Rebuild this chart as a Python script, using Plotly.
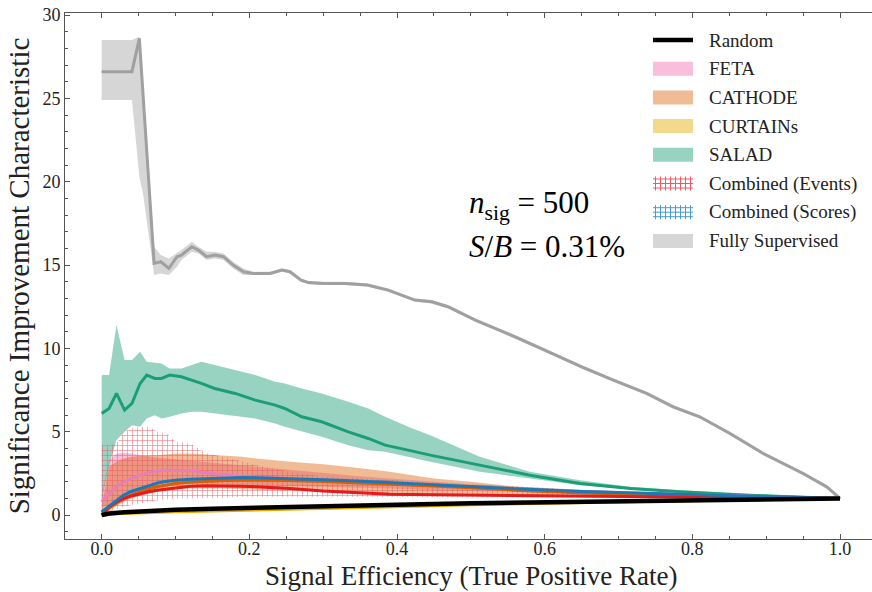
import plotly.graph_objects as go

# ---- Fully supervised classifier ----
fs_x = [0, 0.041, 0.051, 0.056, 0.071, 0.080, 0.091, 0.102, 0.108, 0.122, 0.131, 0.142, 0.153,
        0.165, 0.178, 0.192, 0.205, 0.228, 0.244, 0.255, 0.27, 0.28, 0.30, 0.33, 0.36, 0.388,
        0.424, 0.447, 0.469, 0.506, 0.533, 0.56, 0.60, 0.65, 0.693, 0.738, 0.774, 0.81, 0.851,
        0.896, 0.95, 0.982, 1.0]
fs_y = [26.6, 26.6, 28.6, 25.2, 15.1, 15.2, 14.8, 15.5, 15.6, 16.1, 15.9, 15.5, 15.6,
        15.5, 15.0, 14.6, 14.5, 14.5, 14.7, 14.6, 14.1, 13.95, 13.9, 13.9, 13.8, 13.5,
        12.9, 12.8, 12.5, 11.7, 11.2, 10.7, 9.9, 8.9, 8.1, 7.3, 6.5, 5.9, 4.9,
        3.7, 2.5, 1.7, 1.0]
fs_hi = [28.5, 28.5, 28.7, 26.0, 16.1, 15.6, 15.4, 15.7, 15.9, 16.4, 16.1, 15.8, 15.8,
         15.7, 15.2, 14.8, 14.6, 14.6, 14.8, 14.7, 14.2, 14.05, 14.0, 14.0, 13.9, 13.6,
         13.0, 12.9, 12.6, 11.8, 11.3, 10.8, 10.0, 9.0, 8.2, 7.4, 6.6, 6.0, 5.0,
         3.8, 2.6, 1.8, 1.0]
fs_lo = [24.9, 24.9, 20.3, 19.3, 14.4, 14.5, 14.4, 14.9, 15.3, 15.8, 15.7, 15.3, 15.4,
         15.3, 14.8, 14.4, 14.4, 14.4, 14.6, 14.5, 14.0, 13.85, 13.8, 13.8, 13.7, 13.4,
         12.8, 12.7, 12.4, 11.6, 11.1, 10.6, 9.8, 8.8, 8.0, 7.2, 6.4, 5.8, 4.8,
         3.6, 2.4, 1.6, 1.0]

# ---- SALAD ----
sa_x = [0, 0.01, 0.02, 0.031, 0.041, 0.052, 0.061, 0.072, 0.081, 0.092, 0.108, 0.122, 0.135,
        0.153, 0.181, 0.208, 0.235, 0.248, 0.271, 0.298, 0.334, 0.361, 0.384, 0.415, 0.445,
        0.512, 0.58, 0.648, 0.716, 0.783, 0.874, 1.0]
sa_y = [6.1, 6.4, 7.3, 6.3, 6.7, 7.9, 8.4, 8.2, 8.2, 8.4, 8.3, 8.1, 7.9,
        7.6, 7.3, 6.9, 6.6, 6.4, 5.9, 5.6, 5.0, 4.6, 4.2, 3.9, 3.6,
        3.0, 2.4, 1.9, 1.6, 1.4, 1.2, 1.0]
sa_hi = [8.4, 8.4, 11.4, 9.3, 9.3, 9.8, 9.2, 9.15, 9.1, 8.8, 8.8, 9.0, 9.2,
         9.0, 8.7, 8.4, 8.0, 7.9, 7.6, 7.3, 6.8, 6.4, 5.9, 5.3, 4.8,
         3.5, 2.6, 2.1, 1.7, 1.5, 1.3, 1.0]
sa_lo = [0.9, 3.0, 4.5, 5.0, 5.4, 5.3, 5.8, 6.0, 5.8, 5.9, 6.1, 6.2, 6.2,
         6.1, 5.95, 5.8, 5.5, 5.3, 5.0, 4.7, 4.2, 3.9, 3.8, 3.5, 3.2,
         2.6, 2.2, 1.8, 1.55, 1.4, 1.2, 1.0]

# ---- shared efficiency grid for the weakly supervised methods ----
eff = [0, 0.01, 0.02, 0.03, 0.04, 0.052, 0.065, 0.075, 0.088, 0.1, 0.12, 0.142, 0.165, 0.19,
       0.21, 0.255, 0.3, 0.345, 0.39, 0.45, 0.5, 0.56, 0.65, 0.75, 0.85, 0.95, 1.0]

feta_y = [0.8, 1.3, 1.7, 2.0, 2.2, 2.4, 2.55, 2.65, 2.7, 2.7, 2.66, 2.55, 2.42, 2.32,
          2.27, 2.2, 2.1, 2.0, 1.9, 1.75, 1.65, 1.55, 1.4, 1.27, 1.15, 1.05, 1.0]
feta_hi = [1.2, 3.3, 3.7, 3.75, 3.7, 3.6, 3.5, 3.45, 3.4, 3.35, 3.3, 3.2, 3.1, 3.0,
           2.9, 2.7, 2.5, 2.35, 2.2, 2.0, 1.85, 1.72, 1.52, 1.35, 1.2, 1.07, 1.0]
feta_lo = [0.5, 0.6, 0.8, 1.0, 1.2, 1.4, 1.6, 1.7, 1.8, 1.85, 1.9, 1.9, 1.85, 1.8,
           1.8, 1.75, 1.7, 1.65, 1.6, 1.5, 1.45, 1.38, 1.28, 1.2, 1.1, 1.03, 1.0]

cath_y = [0.15, 0.45, 0.75, 1.0, 1.2, 1.4, 1.6, 1.7, 1.82, 1.9, 1.98, 2.04, 2.08, 2.1,
          2.1, 2.08, 2.02, 1.95, 1.87, 1.75, 1.65, 1.5, 1.33, 1.22, 1.12, 1.04, 1.0]
cath_hi = [0.6, 2.9, 3.2, 3.4, 3.5, 3.55, 3.6, 3.6, 3.65, 3.7, 3.7, 3.65, 3.6, 3.5,
           3.4, 3.2, 3.05, 2.85, 2.6, 2.2, 2.0, 1.72, 1.5, 1.3, 1.18, 1.06, 1.0]
cath_lo = [0.0, 0.3, 0.55, 0.8, 1.0, 1.15, 1.3, 1.4, 1.5, 1.55, 1.6, 1.6, 1.6, 1.55,
           1.5, 1.45, 1.4, 1.35, 1.3, 1.25, 1.22, 1.2, 1.15, 1.12, 1.08, 1.03, 1.0]

curt_y = [0.0, 0.05, 0.08, 0.1, 0.12, 0.14, 0.16, 0.17, 0.19, 0.2, 0.22, 0.24, 0.27, 0.29,
          0.31, 0.35, 0.4, 0.45, 0.5, 0.56, 0.62, 0.68, 0.76, 0.84, 0.91, 0.97, 1.0]
curt_hi = [0.03, 0.09, 0.12, 0.14, 0.16, 0.18, 0.2, 0.21, 0.23, 0.24, 0.26, 0.28, 0.31, 0.33,
           0.35, 0.39, 0.44, 0.49, 0.54, 0.6, 0.66, 0.71, 0.79, 0.86, 0.93, 0.98, 1.0]
curt_lo = [0.0, 0.02, 0.04, 0.06, 0.08, 0.1, 0.12, 0.13, 0.15, 0.16, 0.18, 0.2, 0.23, 0.25,
           0.27, 0.31, 0.36, 0.41, 0.46, 0.52, 0.58, 0.65, 0.73, 0.82, 0.89, 0.96, 1.0]

ev_y = [0.0, 0.5, 0.8, 1.0, 1.15, 1.3, 1.42, 1.5, 1.58, 1.65, 1.74, 1.76, 1.76, 1.74,
        1.7, 1.6, 1.45, 1.33, 1.25, 1.22, 1.2, 1.18, 1.15, 1.12, 1.08, 1.03, 1.0]
ev_hi = [4.2, 4.2, 4.3, 5.0, 5.2, 5.3, 5.3, 5.0, 4.9, 4.4, 4.3, 3.7, 3.5, 3.2,
         3.0, 2.6, 2.3, 2.2, 2.1, 1.9, 1.8, 1.7, 1.5, 1.35, 1.2, 1.05, 1.0]
ev_lo = [0.0, 0.2, 0.35, 0.5, 0.6, 0.7, 0.8, 0.9, 0.95, 1.0, 1.0, 1.05, 1.05, 1.1,
         1.1, 1.1, 1.1, 1.1, 1.1, 1.1, 1.1, 1.1, 1.05, 1.04, 1.02, 1.0, 1.0]

sc_y = [0.2, 0.55, 0.9, 1.2, 1.42, 1.6, 1.8, 1.92, 2.03, 2.1, 2.16, 2.2, 2.24, 2.26,
        2.25, 2.2, 2.12, 2.05, 1.95, 1.8, 1.7, 1.58, 1.42, 1.3, 1.18, 1.06, 1.0]
sc_hi = [0.35, 0.75, 1.1, 1.4, 1.6, 1.78, 1.97, 2.08, 2.19, 2.26, 2.32, 2.36, 2.4, 2.42,
         2.41, 2.36, 2.28, 2.2, 2.1, 1.94, 1.83, 1.7, 1.52, 1.38, 1.24, 1.09, 1.0]
sc_lo = [0.05, 0.35, 0.7, 1.0, 1.24, 1.42, 1.63, 1.76, 1.87, 1.94, 2.0, 2.04, 2.08, 2.1,
         2.09, 2.04, 1.96, 1.9, 1.8, 1.66, 1.57, 1.46, 1.32, 1.22, 1.12, 1.03, 1.0]

# ---- random classifier ----
rand_x = [0, 0.01, 0.03, 0.05, 0.1, 0.15, 0.2, 0.3, 0.4, 0.5, 0.6, 0.7, 0.8, 0.9, 1.0]
rand_y = [0, 0.1, 0.17, 0.22, 0.32, 0.39, 0.45, 0.55, 0.63, 0.71, 0.77, 0.84, 0.89, 0.95, 1.0]

# ---- legend entries (label, kind, colour) ----
legend_labels = ["Random", "FETA", "CATHODE", "CURTAINs", "SALAD",
                 "Combined (Events)", "Combined (Scores)", "Fully Supervised"]
legend_kinds = ["line", "patch", "patch", "patch", "patch", "hatch", "hatch", "patch"]

FONT = "Liberation Serif"
W, H = 872, 592
ML, MR, MT, MB = 65, 0, 13, 53

C_FS = "rgba(200,200,200,0.75)"
C_FETA = "rgba(231,41,138,0.3)"
C_CATH = "rgba(217,95,2,0.42)"
C_CURT = "rgba(230,171,2,0.45)"
C_SALAD = "rgba(27,158,119,0.45)"
C_EV = "rgb(234,90,98)"
C_SC = "rgb(70,155,210)"
legend_colors = ["black", C_FETA, C_CATH, C_CURT, C_SALAD, C_EV, C_SC, C_FS]

fig = go.Figure()


def band(x, lo, hi, color, pattern=False):
    xs = list(x) + list(x)[::-1]
    ys = list(hi) + list(lo)[::-1]
    kw = dict(fillcolor=color)
    if pattern:
        kw = dict(fillcolor="rgba(0,0,0,0)",
                  fillpattern=dict(shape="+", fgcolor=color, fgopacity=0.85,
                                   bgcolor="rgba(0,0,0,0)", size=5, solidity=0.22))
    fig.add_trace(go.Scatter(x=xs, y=ys, fill="toself", mode="lines",
                             line=dict(width=0, color=color), showlegend=False,
                             hoverinfo="skip", **kw))


def curve(x, y, color, width=3):
    fig.add_trace(go.Scatter(x=x, y=y, mode="lines", line=dict(color=color, width=width),
                             showlegend=False, hoverinfo="skip"))


band(fs_x, fs_lo, fs_hi, C_FS)
band(eff, feta_lo, feta_hi, C_FETA)
band(eff, cath_lo, cath_hi, C_CATH)
band(eff, curt_lo, curt_hi, C_CURT)
band(sa_x, sa_lo, sa_hi, C_SALAD)
band(eff, ev_lo, ev_hi, C_EV, pattern=True)
band(eff, sc_lo, sc_hi, C_SC, pattern=True)

curve(fs_x, fs_y, "#a0a0a0")
curve(sa_x, sa_y, "#1b9e77")
curve(eff, feta_y, "#e57fb8")
curve(eff, cath_y, "#d95f02")
curve(eff, curt_y, "#e6ab02")
curve(eff, ev_y, "#e41a1c")
curve(eff, sc_y, "#1f77b4")
curve(rand_x, rand_y, "black", width=4.5)


# ---- legend drawn in paper coordinates ----
def px_x(p):
    return (p - ML) / (W - ML - MR)


def px_y(p):
    return (H - MB - p) / (H - MT - MB)


shapes = []
row0, row_step = 40, 28.7
sw_l, sw_r, sw_h = 653, 693, 14
for i, (lab, kind, col) in enumerate(zip(legend_labels, legend_kinds, legend_colors)):
    yc = row0 + i * row_step
    if kind == "line":
        shapes.append(dict(type="line", xref="paper", yref="paper",
                           x0=px_x(sw_l), x1=px_x(sw_r), y0=px_y(yc), y1=px_y(yc),
                           line=dict(color=col, width=4.5)))
    elif kind == "patch":
        shapes.append(dict(type="rect", xref="paper", yref="paper",
                           x0=px_x(sw_l), x1=px_x(sw_r), y0=px_y(yc - sw_h / 2),
                           y1=px_y(yc + sw_h / 2), fillcolor=col, line=dict(width=0)))
    else:
        for k in range(8):
            xv = sw_l + 2.5 + k * 5
            shapes.append(dict(type="line", xref="paper", yref="paper",
                               x0=px_x(xv), x1=px_x(xv), y0=px_y(yc - sw_h / 2),
                               y1=px_y(yc + sw_h / 2), line=dict(color=col, width=1)))
        for dy in (-4.5, 0, 4.5):
            shapes.append(dict(type="line", xref="paper", yref="paper",
                               x0=px_x(sw_l), x1=px_x(sw_r), y0=px_y(yc + dy),
                               y1=px_y(yc + dy), line=dict(color=col, width=1)))
    fig.add_annotation(x=px_x(707), y=px_y(yc), xref="paper", yref="paper",
                       xanchor="left", yanchor="middle", text=lab, showarrow=False,
                       font=dict(family=FONT, size=19, color="#222"))

fig.add_annotation(x=0.495, y=17.3, xref="x", yref="y", xanchor="left", yanchor="bottom",
                   text="<i>n</i><sub>sig</sub> = 500", showarrow=False,
                   font=dict(family=FONT, size=31, color="black"))
fig.add_annotation(x=0.495, y=17.3, xref="x", yref="y", xanchor="left", yanchor="top",
                   text="<i>S</i>/<i>B</i> = 0.31%", showarrow=False,
                   font=dict(family=FONT, size=31, color="black"))

# x-axis title placed under the tick labels
fig.add_annotation(x=px_x(471), y=px_y(592), xref="paper", yref="paper",
                   xanchor="center", yanchor="bottom", borderpad=0,
                   text="Signal Efficiency (True Positive Rate)", showarrow=False,
                   font=dict(family=FONT, size=27, color="#222"))

axis_common = dict(showgrid=False, zeroline=False, showline=True, linecolor="#555",
                   linewidth=1, ticks="inside", ticklen=5, tickcolor="#555",
                   tickfont=dict(family=FONT, size=18, color="#222"))

fig.update_layout(
    width=W, height=H,
    margin=dict(l=ML, r=MR, t=MT, b=MB),
    paper_bgcolor="white", plot_bgcolor="white",
    font=dict(family=FONT, color="#222"),
    shapes=shapes,
    showlegend=False,
    xaxis=dict(range=[-0.0497, 1.0433], tickvals=[0, 0.2, 0.4, 0.6, 0.8, 1.0],
               ticktext=["0.0", "0.2", "0.4", "0.6", "0.8", "1.0"], mirror="ticks",
               ticklabelstandoff=-7,
               minor=dict(dtick=0.05, tick0=0, ticks="inside", ticklen=3, tickcolor="#555"),
               **axis_common),
    yaxis=dict(range=[-1.43, 30.12], tickvals=[0, 5, 10, 15, 20, 25, 30],
               minor=dict(dtick=1, tick0=0, ticks="inside", ticklen=3, tickcolor="#555"),
               title=dict(text="Significance Improvement Characteristic",
                          font=dict(family=FONT, size=29, color="#222"), standoff=4),
               **axis_common),
)

fig.write_html("out.html")
